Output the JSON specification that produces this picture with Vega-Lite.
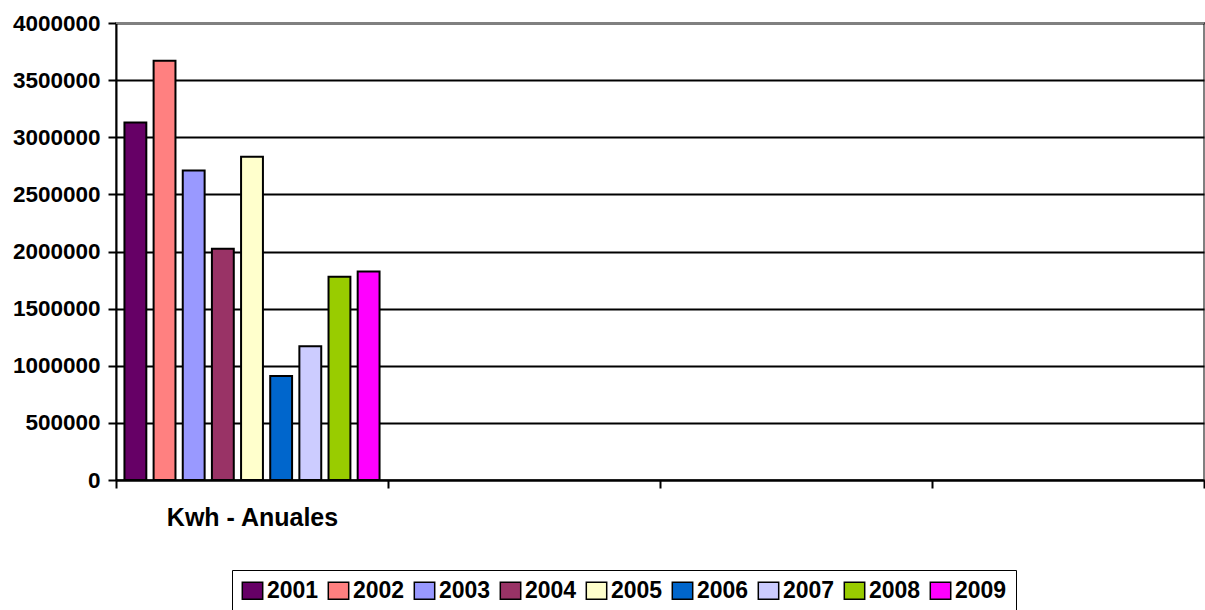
{
  "$schema": "https://vega.github.io/schema/vega-lite/v6.json",
  "width": 1088,
  "height": 457,
  "autosize": {"type": "none"},
  "padding": {"left": 116, "top": 23, "right": 1, "bottom": 130},
  "background": "white",
  "config": {
    "view": {"stroke": "#808080", "strokeWidth": 2},
    "font": "Liberation Sans"
  },
  "data": {
    "values": [
      {"categoria": "Kwh - Anuales", "anio": "2001", "kwh": 3130000},
      {"categoria": "Kwh - Anuales", "anio": "2002", "kwh": 3670000},
      {"categoria": "Kwh - Anuales", "anio": "2003", "kwh": 2710000},
      {"categoria": "Kwh - Anuales", "anio": "2004", "kwh": 2025000},
      {"categoria": "Kwh - Anuales", "anio": "2005", "kwh": 2830000},
      {"categoria": "Kwh - Anuales", "anio": "2006", "kwh": 910000},
      {"categoria": "Kwh - Anuales", "anio": "2007", "kwh": 1170000},
      {"categoria": "Kwh - Anuales", "anio": "2008", "kwh": 1780000},
      {"categoria": "Kwh - Anuales", "anio": "2009", "kwh": 1825000}
    ]
  },
  "layer": [
    {
      "mark": {"type": "bar", "stroke": "black", "strokeWidth": 2, "opacity": 1},
      "encoding": {
        "x": {
          "field": "categoria",
          "type": "nominal",
          "scale": {"domain": ["Kwh - Anuales", "c2", "c3", "c4"], "paddingInner": 0, "paddingOuter": 0},
          "axis": {
            "title": null,
            "labelAngle": 0,
            "labelExpr": "datum.value == 'Kwh - Anuales' ? datum.value : ''",
            "labelFont": "Liberation Sans",
            "labelFontWeight": "bold",
            "labelFontSize": 25,
            "labelColor": "black",
            "labelPadding": 17,
            "tickBand": "extent",
            "tickSize": 8,
            "tickColor": "black",
            "tickWidth": 2,
            "domainColor": "black",
            "domainWidth": 2,
            "grid": false
          }
        },
        "xOffset": {
          "field": "anio",
          "type": "nominal",
          "scale": {"paddingInner": 0.25, "paddingOuter": 0.29}
        },
        "y": {
          "field": "kwh",
          "type": "quantitative",
          "scale": {"domain": [0, 4000000], "nice": false},
          "axis": {
            "title": null,
            "values": [0, 500000, 1000000, 1500000, 2000000, 2500000, 3000000, 3500000, 4000000],
            "format": "d",
            "labelFont": "Liberation Sans",
            "labelFontWeight": "bold",
            "labelFontSize": 22.5,
            "labelColor": "black",
            "labelPadding": 8,
            "tickSize": 8,
            "tickColor": "black",
            "tickWidth": 2,
            "domainColor": "black",
            "domainWidth": 2,
            "grid": true,
            "gridColor": "black",
            "gridWidth": 2,
            "gridOpacity": 1
          }
        },
        "color": {
          "field": "anio",
          "type": "nominal",
          "scale": {
            "domain": ["2001", "2002", "2003", "2004", "2005", "2006", "2007", "2008", "2009"],
            "range": ["#660066", "#FF8080", "#9999FF", "#993366", "#FFFFCC", "#0066CC", "#CCCCFF", "#99CC00", "#FF00FF"]
          },
          "legend": {
            "title": null,
            "orient": "none",
            "legendX": 116,
            "legendY": 547,
            "direction": "horizontal",
            "columns": 9,
            "symbolType": "M-1.2,-1H1.2V1H-1.2Z",
            "symbolSize": 289,
            "symbolStrokeColor": "black",
            "symbolStrokeWidth": 1.5,
            "symbolOpacity": 1,
            "labelFont": "Liberation Sans",
            "labelFontWeight": "bold",
            "labelFontSize": 23,
            "labelColor": "black",
            "labelOffset": 3,
            "columnPadding": 6,
            "padding": 9,
            "strokeColor": "black"
          }
        }
      }
    },
    {
      "mark": {"type": "rule", "color": "#808080", "strokeWidth": 2},
      "encoding": {"y": {"datum": 4000000, "type": "quantitative"}}
    }
  ]
}
